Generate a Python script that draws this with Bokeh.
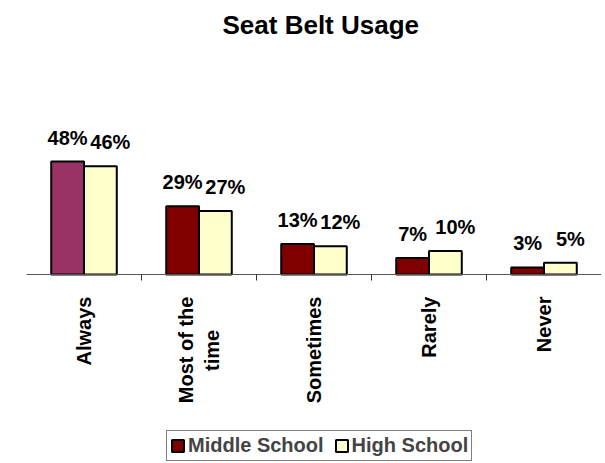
import numpy as np
from bokeh.plotting import figure
from bokeh.models import (ColumnDataSource, Range1d, LinearAxis, FixedTicker,
                          Legend, LegendItem)
from bokeh.core.properties import value
from bokeh.embed import file_html
from bokeh.resources import INLINE

# ---- data ----
categories = ["Always", "Most of the time", "Sometimes", "Rarely", "Never"]
tick_labels = ["Always", "Most of the\ntime" + "\u00a0" * 6, "Sometimes",
               "Rarely", "Never"]
middle_school = [48, 29, 13, 7, 3]
high_school = [46, 27, 12, 10, 5]

FONT = "Liberation Sans"
MS_COLOR = "#800000"
MS_HIGHLIGHT = "#993366"
HS_COLOR = "#FFFFCC"

pos = np.arange(len(categories)) + 0.5
bar_w = 0.285
ms_src = ColumnDataSource(dict(
    x=pos - bar_w / 2, top=middle_school,
    color=[MS_HIGHLIGHT] + [MS_COLOR] * (len(categories) - 1),
    label=[f"{v}%" for v in middle_school]))
hs_src = ColumnDataSource(dict(
    x=pos + bar_w / 2, top=high_school,
    label=[f"{v}%" for v in high_school]))

p = figure(frame_width=575, frame_height=417,
           output_backend="svg", toolbar_location=None,
           x_range=Range1d(0, len(categories)), y_range=Range1d(-79.4, 97.7),
           x_axis_type=None, y_axis_type=None,
           min_border_left=26, min_border_right=0, min_border_top=44,
           min_border_bottom=0)
p.outline_line_color = None
p.xgrid.visible = False
p.ygrid.visible = False

p.title.text = "Seat Belt Usage"
p.title.align = "left"
p.title.offset = 196
p.title.text_font = FONT
p.title.text_font_size = "26px"
p.title.text_font_style = "bold"
p.title.text_color = "black"

r1 = p.vbar(x="x", top="top", bottom=0, width=bar_w, source=ms_src,
            fill_color="color", line_color="black", line_width=2)
r2 = p.vbar(x="x", top="top", bottom=0, width=bar_w, source=hs_src,
            fill_color=HS_COLOR, line_color="black", line_width=2)

for src, xo in ((ms_src, 0), (hs_src, 10)):
    p.text(x="x", y="top", text="label", source=src, text_align="center",
           text_baseline="bottom", y_offset=-13, x_offset=xo,
           text_font=value(FONT), text_font_size="20px",
           text_font_style="bold", text_color="black")

ax = LinearAxis(ticker=FixedTicker(ticks=list(pos),
                                   minor_ticks=list(range(1, len(categories)))),
                fixed_location=0)
ax.major_label_overrides = {float(x): t for x, t in zip(pos, tick_labels)}
ax.major_label_orientation = np.pi / 2
ax.major_tick_out = 0
ax.major_tick_in = 0
ax.minor_tick_out = 6
ax.minor_tick_in = 0
ax.minor_tick_line_color = "#333333"
ax.axis_line_color = "#555555"
ax.major_label_standoff = 16
ax.major_label_text_font = FONT
ax.major_label_text_font_size = "20px"
ax.major_label_text_font_style = "bold"
ax.major_label_text_color = "black"
p.add_layout(ax, "below")

legend = Legend(items=[LegendItem(label="Middle School", renderers=[r1], index=1),
                       LegendItem(label="High School", renderers=[r2])],
                orientation="horizontal", location=(140, 0))
legend.label_text_font = FONT
legend.label_text_font_size = "20px"
legend.label_text_font_style = "bold"
legend.glyph_width = 15
legend.glyph_height = 15
legend.label_standoff = 3
legend.spacing = 10
legend.padding = 3
legend.margin = 0
legend.border_line_color = "black"
legend.border_line_width = 1
legend.background_fill_alpha = 1
p.add_layout(legend, "center")

open("out.html", "w").write(file_html(p, INLINE))
